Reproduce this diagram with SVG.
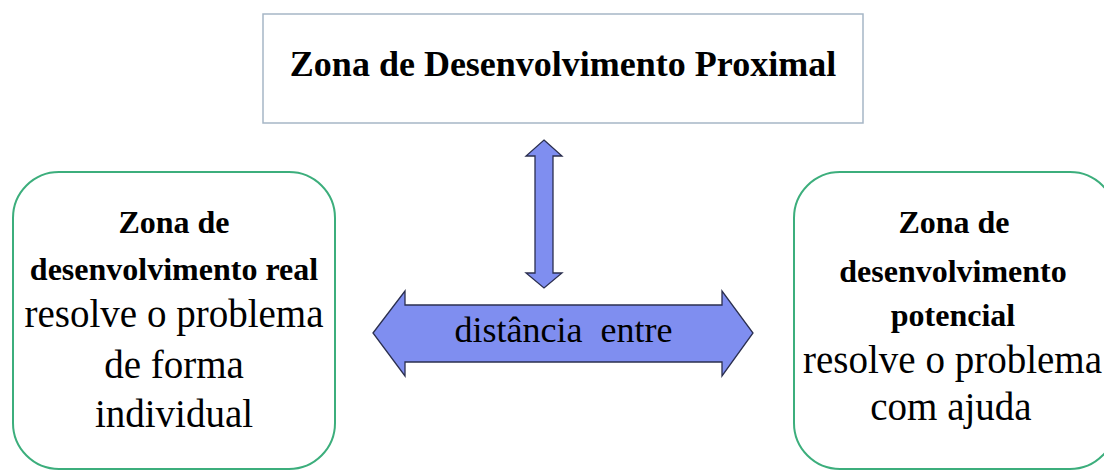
<svg xmlns="http://www.w3.org/2000/svg" width="1104" height="470" viewBox="0 0 1104 470">
<style>
.bold{font-family:"Liberation Serif","Times New Roman",serif;font-weight:bold;font-size:32px;fill:#000;text-anchor:middle}
.reg{font-family:"Liberation Serif","Times New Roman",serif;font-size:39px;fill:#000;text-anchor:middle}
.zone{fill:#fff;stroke:#3cae7c;stroke-width:2}
.arrow{fill:#7f8ef0;stroke:#2b2f4f;stroke-width:1.3;stroke-linejoin:miter}
</style>
<rect width="1104" height="470" fill="#fff"/>
<g id="zdp">
<rect x="263" y="14" width="600" height="109" fill="#fff" stroke="#a6b6c6" stroke-width="1.5"/>
<text class="bold" x="563" y="76" style="font-size:36px">Zona de Desenvolvimento Proximal</text>
</g>
<g id="real">
<rect class="zone" x="13" y="172" width="322" height="297" rx="46" ry="46"/>
<text class="bold" x="174" y="233">Zona de</text>
<text class="bold" x="174" y="280">desenvolvimento real</text>
<text class="reg" x="174" y="327">resolve o problema</text>
<text class="reg" x="174" y="378">de forma</text>
<text class="reg" x="174" y="427">individual</text>
</g>
<g id="potencial">
<rect class="zone" x="794" y="172" width="322" height="297" rx="46" ry="46"/>
<text class="bold" x="954" y="233">Zona de</text>
<text class="bold" x="953" y="282">desenvolvimento</text>
<text class="bold" x="953" y="326">potencial</text>
<text class="reg" x="952.5" y="373">resolve o problema</text>
<text class="reg" x="951" y="420">com ajuda</text>
</g>
<g id="connectors">
<polygon class="arrow" points="544,140 562,156 553,156 553,273 562,273 544,288 526,273 535,273 535,156 526,156"/>
<polygon class="arrow" points="373,333 405,291 405,305 722,305 722,291 753,333 722,376 722,362 405,362 405,376"/>
<text class="reg" x="563.5" y="342" style="font-size:36px" xml:space="preserve">distância  entre</text>
</g>
</svg>
